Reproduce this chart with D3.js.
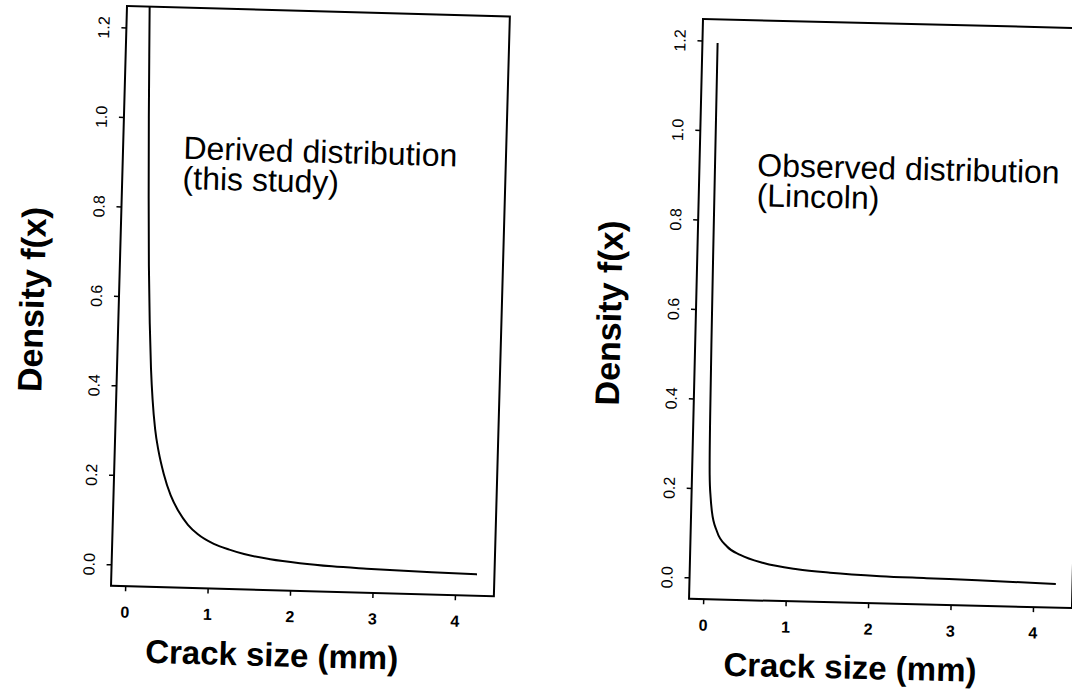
<!DOCTYPE html>
<html>
<head>
	<title></title>
	<meta charset="utf-8">
	<script src="https://cdn.jsdelivr.net/npm/d3@7"></script>
	<style>
		body { margin: 0; background: #fff; }
		text { font-family: "Liberation Sans", Arial, sans-serif; fill: #000; }
	</style>
</head>
<body>
	<svg id="chart" width="1072" height="692"></svg>

	<script type="text/javascript">
		// tick values
		var xTicks = [0, 1, 2, 3, 4];
		var yTicks = [0.0, 0.2, 0.4, 0.6, 0.8, 1.0, 1.2];

		// derived distribution (this study)
		var derivedX = [0.095, 0.11, 0.13, 0.155, 0.18, 0.21, 0.24, 0.27, 0.31, 0.36, 0.43, 0.52, 0.62, 0.74, 0.86, 1.06, 1.25, 1.43, 1.75, 2.11, 2.5, 2.92, 3.71, 4.26];
		var derivedY = [1.32, 1.18, 1.00, 0.82, 0.67, 0.54, 0.44, 0.37, 0.305, 0.255, 0.205, 0.158, 0.123, 0.093, 0.073, 0.052, 0.040, 0.031, 0.021, 0.014, 0.009, 0.006, 0.002, 0.0];

		// observed distribution (Lincoln)
		var observedX = [0.012, 0.016, 0.02, 0.025, 0.031, 0.042, 0.06, 0.08, 0.147, 0.273, 0.436, 0.72, 1.13, 1.53, 2.14, 2.7, 3.32, 4.27];
		var observedY = [1.195, 0.95, 0.72, 0.52, 0.36, 0.23, 0.18, 0.148, 0.104, 0.071, 0.053, 0.036, 0.024, 0.018, 0.013, 0.011, 0.009, 0.005];

		var xTitle = "Crack size (mm)";
		var yTitle = "Density f(x)";

		var svg = d3.select("#chart");
		var W = 383, H = 580;

		function drawPanel(id, left, top, angle, xs, ys, lines, labelAt) {
			var x = d3.scaleLinear().domain([-0.172, 4.472]).range([0, W]);
			var y = d3.scaleLinear().domain([-0.048, 1.248]).range([H, 0]);

			var g = svg.append("g")
				.attr("transform", "translate(" + left + "," + top + ") rotate(" + angle + ")");

			g.append("clipPath").attr("id", "clip" + id)
				.append("rect").attr("width", W).attr("height", H);

			// x axis
			var xg = g.append("g")
				.attr("transform", "translate(0," + H + ")")
				.call(d3.axisBottom(x).tickValues(xTicks).tickSize(5).tickPadding(15).tickFormat(d3.format("d")));
			xg.select(".domain").remove();
			xg.selectAll("line").attr("stroke-width", 1.5);
			xg.selectAll("text")
				.attr("font-size", 16)
				.attr("font-weight", "bold")
				.attr("font-family", "Liberation Sans, Arial, sans-serif");

			// y axis, labels turned like the original
			var yg = g.append("g")
				.call(d3.axisLeft(y).tickValues(yTicks).tickSize(5).tickFormat(d3.format(".1f")));
			yg.select(".domain").remove();
			yg.selectAll("line").attr("stroke-width", 1.5);
			yg.selectAll("text")
				.attr("x", null)
				.attr("dy", null)
				.attr("text-anchor", "middle")
				.attr("transform", "translate(-17,0) rotate(-90)")
				.attr("font-size", 16)
				.attr("font-family", "Liberation Sans, Arial, sans-serif");

			// box
			g.append("rect")
				.attr("width", W).attr("height", H)
				.attr("fill", "none")
				.attr("stroke", "#000")
				.attr("stroke-width", 2);

			// curve
			var pts = d3.zip(xs, ys);
			var line = d3.line()
				.x(function(d) { return x(d[0]); })
				.y(function(d) { return y(d[1]); })
				.curve(d3.curveMonotoneX);
			g.append("path")
				.datum(pts)
				.attr("clip-path", "url(#clip" + id + ")")
				.attr("fill", "none")
				.attr("stroke", "#000")
				.attr("stroke-width", 2)
				.attr("d", line);

			// annotation
			var t = g.append("text")
				.attr("x", x(labelAt[0]))
				.attr("y", y(labelAt[1]))
				.attr("font-size", 32);
			lines.forEach(function(s, i) {
				t.append("tspan")
					.attr("x", x(labelAt[0]))
					.attr("dy", i == 0 ? 0 : "0.94em")
					.text(s);
			});

			// axis titles
			g.append("text")
				.attr("x", 36)
				.attr("y", H + 76)
				.attr("font-size", 33)
				.attr("font-weight", "bold")
				.text(xTitle);

			g.append("text")
				.attr("transform", "translate(-75," + (H / 2 + 6) + ") rotate(-90)")
				.attr("text-anchor", "middle")
				.attr("font-size", 34)
				.attr("font-weight", "bold")
				.text(yTitle);
		}

		drawPanel("a", 127, 6, 1.58, derivedX, derivedY, ["Derived distribution", "(this study)"], [0.56, 0.91]);
		drawPanel("b", 703, 19, 1.38, observedX, observedY, ["Observed distribution", "(Lincoln)"], [0.53, 0.90]);
	</script>
</body>
</html>
